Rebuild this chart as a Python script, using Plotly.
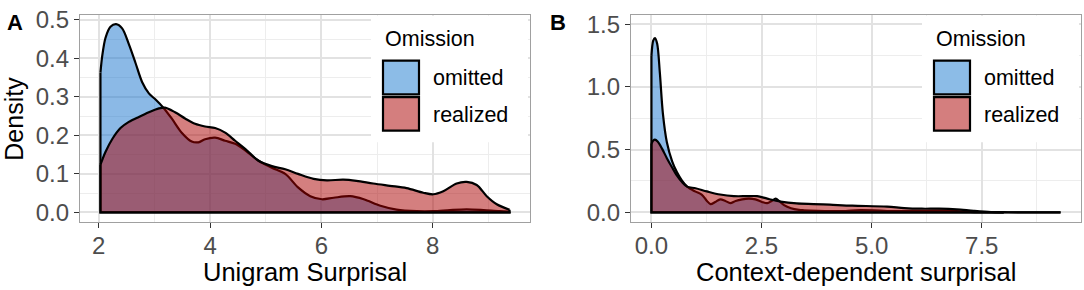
import plotly.graph_objects as go

# ---------------- data ----------------
series_names = ["omitted", "realized"]

# Panel A: Unigram Surprisal densities
a_omitted_x = [2.03, 2.06, 2.12, 2.21, 2.31, 2.42, 2.54, 2.66, 2.78, 2.90, 3.02, 3.16, 3.31, 3.49,
               3.67, 3.79, 3.91, 4.09, 4.27, 4.45, 4.63, 4.87, 5.11, 5.35, 5.58, 5.80, 6.01, 6.22,
               6.52, 6.76, 7.06, 7.35, 7.71, 8.01, 8.31, 8.61, 8.91, 9.20, 9.38]
a_omitted_y = [0.363, 0.404, 0.453, 0.482, 0.489, 0.478, 0.437, 0.388, 0.338, 0.309, 0.293, 0.272,
               0.244, 0.207, 0.184, 0.182, 0.190, 0.194, 0.186, 0.178, 0.161, 0.134, 0.116, 0.100,
               0.065, 0.042, 0.034, 0.038, 0.042, 0.034, 0.017, 0.007, 0.003, 0.003, 0.006, 0.008,
               0.006, 0.003, 0.002]
a_realized_x = [2.03, 2.12, 2.24, 2.39, 2.54, 2.72, 2.90, 3.08, 3.19, 3.37, 3.55, 3.73, 3.91, 4.09,
                4.27, 4.45, 4.63, 4.87, 5.11, 5.35, 5.58, 5.86, 6.10, 6.39, 6.63, 6.93, 7.23, 7.53,
                7.83, 8.01, 8.19, 8.43, 8.61, 8.79, 8.97, 9.15, 9.38]
a_realized_y = [0.124, 0.157, 0.190, 0.219, 0.235, 0.248, 0.260, 0.270, 0.272, 0.260, 0.244, 0.230,
                0.223, 0.219, 0.207, 0.186, 0.165, 0.134, 0.120, 0.112, 0.100, 0.087, 0.083, 0.085,
                0.082, 0.075, 0.069, 0.063, 0.051, 0.047, 0.055, 0.075, 0.079, 0.071, 0.042, 0.021,
                0.007]

# Panel B: Context-dependent surprisal densities
b_omitted_x = [0.00, 0.04, 0.08, 0.13, 0.19, 0.26, 0.35, 0.47, 0.58, 0.69, 0.81, 0.99, 1.14, 1.26,
               1.34, 1.45, 1.56, 1.68, 1.79, 1.91, 2.06, 2.21, 2.36, 2.51, 2.63, 2.73, 2.82, 2.90,
               3.01, 3.17, 3.35, 3.46, 3.78, 4.41, 4.64, 5.04, 5.35, 6.14, 6.53, 6.93, 7.24, 7.55,
               8.00]
b_omitted_y = [1.247, 1.368, 1.389, 1.343, 1.115, 0.787, 0.559, 0.407, 0.319, 0.255, 0.205, 0.167,
               0.142, 0.091, 0.066, 0.083, 0.104, 0.091, 0.073, 0.091, 0.104, 0.109, 0.104, 0.083,
               0.073, 0.091, 0.109, 0.091, 0.058, 0.033, 0.020, 0.017, 0.013, 0.011, 0.017, 0.016,
               0.011, 0.011, 0.014, 0.011, 0.003, 0.001, 0.0]
b_realized_x = [0.00, 0.04, 0.08, 0.14, 0.24, 0.35, 0.47, 0.58, 0.69, 0.81, 1.00, 1.26, 1.56, 1.87,
                2.17, 2.40, 2.63, 2.93, 3.30, 3.68, 4.05, 4.56, 5.35, 5.74, 6.14, 6.53, 6.93, 7.32,
                7.71, 8.10, 8.60, 9.29]
b_realized_y = [0.546, 0.572, 0.579, 0.564, 0.508, 0.432, 0.357, 0.293, 0.243, 0.205, 0.192, 0.167,
                0.142, 0.129, 0.129, 0.129, 0.109, 0.086, 0.071, 0.066, 0.061, 0.053, 0.046, 0.034,
                0.029, 0.029, 0.024, 0.012, 0.003, 0.001, 0.0, 0.0]

a_xticks = [2, 4, 6, 8]
a_yticks = [0.0, 0.1, 0.2, 0.3, 0.4, 0.5]
b_xticks = [0.0, 2.5, 5.0, 7.5]
b_yticks = [0.0, 0.5, 1.0, 1.5]
b_ylimits = [0.0, 1.5]

panel_labels = ["A", "B"]
x_titles = ["Unigram Surprisal", "Context-dependent surprisal"]
y_title = "Density"
legend_title = "Omission"

# ---------------- styling ----------------
W, H = 1084, 290
FONT = "Liberation Sans, Arial, sans-serif"
FILLS = {"omitted": "rgba(24,116,205,0.5)", "realized": "rgba(170,0,0,0.5)"}
KEYFILLS = {"omitted": "rgb(140,188,231)", "realized": "rgb(212,126,126)"}
LINE_W = 2.2

def fx(p):
    return p / W

def fy(p):
    return 1 - p / H

PANEL_X = [(80, 530), (631, 1081)]
PANEL_Y = (7, 223)

def expand(lo, hi, m=0.05):
    d = (hi - lo) * m
    return [lo - d, hi + d]

fig = go.Figure()

def add_density(xs, ys, name, xa, ya):
    fig.add_trace(go.Scatter(
        x=xs, y=ys, mode="lines", fill="tozeroy", fillcolor=FILLS[name],
        line=dict(color="black", width=LINE_W, shape="spline", smoothing=0.9),
        xaxis=xa, yaxis=ya, showlegend=False, name=name, hoverinfo="skip"))
    # polygon edges (vertical ends + baseline) as in geom_density
    fig.add_trace(go.Scatter(
        x=[xs[0], xs[0], xs[-1], xs[-1]], y=[ys[0], 0, 0, ys[-1]], mode="lines",
        line=dict(color="black", width=LINE_W), xaxis=xa, yaxis=ya,
        showlegend=False, hoverinfo="skip"))

add_density(a_omitted_x, a_omitted_y, "omitted", "x", "y")
add_density(a_realized_x, a_realized_y, "realized", "x", "y")
add_density(b_omitted_x, b_omitted_y, "omitted", "x2", "y2")
add_density(b_realized_x, b_realized_y, "realized", "x2", "y2")

a_xr = expand(min(a_omitted_x + a_realized_x), max(a_omitted_x + a_realized_x))
a_yr = expand(0, max(a_omitted_y + a_realized_y))
b_xr = expand(min(b_omitted_x + b_realized_x), max(b_omitted_x + b_realized_x))
b_yr = expand(*b_ylimits)

GRID = "#E2E2E2"
MINOR = "#EDEDED"
BORDER = "#A0A0A0"
TICKFONT = dict(family=FONT, size=24, color="#4D4D4D")

def axis_common(rng, ticks, minor_dtick, domain, fmt, anchor, standoff=0):
    return dict(range=rng, tickvals=ticks, tickformat=fmt, domain=domain, anchor=anchor,
                showgrid=True, gridcolor=GRID, gridwidth=1.6,
                minor=dict(dtick=minor_dtick, tick0=0, showgrid=True, gridcolor=MINOR, gridwidth=1),
                showline=True, mirror=True, linecolor=BORDER, linewidth=1.2,
                ticks="outside", ticklen=5, tickcolor="#333333", tickwidth=1.2,
                ticklabelstandoff=standoff,
                tickfont=TICKFONT, zeroline=False, fixedrange=True)

ydom = [fy(PANEL_Y[1]), fy(PANEL_Y[0])]
fig.update_layout(
    width=W, height=H, margin=dict(l=0, r=0, t=0, b=0),
    paper_bgcolor="white", plot_bgcolor="white", showlegend=False,
    xaxis=axis_common(a_xr, a_xticks, 1, [fx(PANEL_X[0][0]), fx(PANEL_X[0][1])], "d", "y", -3),
    yaxis=axis_common(a_yr, a_yticks, 0.05, ydom, ".1f", "x"),
    xaxis2=axis_common(b_xr, b_xticks, 1.25, [fx(PANEL_X[1][0]), fx(PANEL_X[1][1])], ".1f", "y2", -3),
    yaxis2=axis_common(b_yr, b_yticks, 0.25, ydom, ".1f", "x2"),
)

annotations = []
shapes = []

# panel labels
for lab, lx in zip(panel_labels, [5, 548]):
    annotations.append(dict(text="<b>%s</b>" % lab, x=fx(lx), y=fy(15), xref="paper", yref="paper",
                            xanchor="left", yanchor="middle", showarrow=False,
                            font=dict(family=FONT, size=22, color="black")))
# axis titles
for title, (l, r) in zip(x_titles, PANEL_X):
    annotations.append(dict(text=title, x=fx((l + r) / 2), y=fy(275), xref="paper", yref="paper",
                            xanchor="center", yanchor="middle", showarrow=False,
                            font=dict(family=FONT, size=25.5, color="black")))
annotations.append(dict(text=y_title, x=fx(14.5), y=fy(116), xref="paper", yref="paper",
                        xanchor="center", yanchor="middle", showarrow=False, textangle=-90,
                        font=dict(family=FONT, size=25, color="black")))

# legends (one inside each panel, top-right)
for (l, r) in PANEL_X:
    box_r = r - 2
    box_l = box_r - 157
    shapes.append(dict(type="rect", xref="paper", yref="paper", x0=fx(box_l), x1=fx(box_r),
                       y0=fy(140), y1=fy(8), fillcolor="white", line=dict(width=0), layer="above"))
    annotations.append(dict(text=legend_title, x=fx(box_l + 12), y=fy(32.5), xref="paper", yref="paper",
                            xanchor="left", yanchor="middle", showarrow=False,
                            font=dict(family=FONT, size=21.5, color="black")))
    for name, (k0, k1) in zip(series_names, [(55, 90), (93, 128)]):
        shapes.append(dict(type="rect", xref="paper", yref="paper", x0=fx(box_l + 12), x1=fx(box_l + 48),
                           y0=fy(k1), y1=fy(k0), fillcolor=KEYFILLS[name],
                           line=dict(color="black", width=2.2), layer="above"))
        annotations.append(dict(text=name, x=fx(box_l + 60), y=fy((k0 + k1) / 2 + 1), xref="paper", yref="paper",
                                xanchor="left", yanchor="middle", showarrow=False,
                                font=dict(family=FONT, size=21.5, color="black")))

fig.update_layout(annotations=annotations, shapes=shapes)
fig.write_html("out.html", config={"displayModeBar": False},
               post_script="document.body.style.margin='0';document.body.style.overflow='hidden';")
